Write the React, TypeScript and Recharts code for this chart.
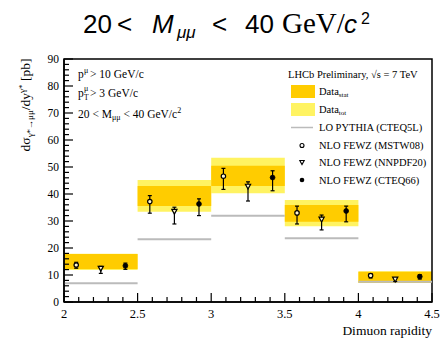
import React from 'react';
import { ComposedChart, XAxis, YAxis, Scatter, ErrorBar, ReferenceArea, ReferenceLine } from 'recharts';

// ---- data ----
const binLow = [2.0, 2.5, 3.0, 3.5, 4.0];
const binHigh = [2.5, 3.0, 3.5, 4.0, 4.5];
const totLow = [11.85, 33.4, 40.3, 28.1, 7.0];
const totHigh = [17.9, 45.2, 53.4, 37.8, 11.4];
const statLow = [12.2, 35.6, 43.0, 29.7, 7.15];
const statHigh = [17.8, 43.0, 50.5, 35.9, 11.2];
const pythia = [6.9, 23.2, 31.9, 23.6, 7.5];

const xMstw = [2.083, 2.583, 3.083, 3.583, 4.083];
const mstw = [13.7, 37.2, 46.6, 33.0, 9.8];
const mstwUp = [1.0, 2.2, 2.9, 2.5, 0.7];
const mstwDn = [1.2, 4.3, 4.9, 4.1, 0.9];

const xNnpdf = [2.25, 2.75, 3.25, 3.75, 4.25];
const nnpdf = [12.4, 33.5, 42.8, 30.6, 8.4];
const nnpdfUp = [0.8, 1.6, 1.7, 1.6, 0.6];
const nnpdfDn = [1.8, 4.6, 5.4, 3.9, 0.8];

const xCteq = [2.417, 2.917, 3.417, 3.917, 4.417];
const cteq = [13.4, 36.3, 46.1, 33.7, 9.4];
const cteqUp = [1.0, 1.9, 2.5, 1.8, 0.7];
const cteqDn = [1.3, 4.3, 4.9, 4.0, 0.9];

const xTicks = [2.0, 2.1, 2.2, 2.3, 2.4, 2.5, 2.6, 2.7, 2.8, 2.9, 3.0, 3.1, 3.2, 3.3, 3.4, 3.5, 3.6, 3.7, 3.8, 3.9, 4.0, 4.1, 4.2, 4.3, 4.4, 4.5];
const xMajor = [2.0, 2.5, 3.0, 3.5, 4.0, 4.5];
const yTicks = [0, 2, 4, 6, 8, 10, 12, 14, 16, 18, 20, 22, 24, 26, 28, 30, 32, 34, 36, 38, 40, 42, 44, 46, 48, 50, 52, 54, 56, 58, 60, 62, 64, 66, 68, 70, 72, 74, 76, 78, 80, 82, 84, 86, 88, 90];
const yMajor = [0, 10, 20, 30, 40, 50, 60, 70, 80, 90];

const SERIF = '"Liberation Serif", "Times New Roman", serif';
const SANS = '"Liberation Sans", Arial, Helvetica, sans-serif';

const ORANGE = '#FFCC00';
const YELLOW = '#FFF362';
const GRAY = '#BBBBBB';

const mk = (xs: number[], ys: number[], up: number[], dn: number[]) =>
  ys.map((y, i) => ({ x: xs[i], y, err: [dn[i], up[i]] }));

const mstwData = mk(xMstw, mstw, mstwUp, mstwDn);
const nnpdfData = mk(xNnpdf, nnpdf, nnpdfUp, nnpdfDn);
const cteqData = mk(xCteq, cteq, cteqUp, cteqDn);

const isMajor = (v: number, list: number[]) => list.some((m) => Math.abs(m - v) < 1e-6);

const XTick = (props: any) => {
  const { x, y, payload } = props;
  const v = payload.value;
  const major = isMajor(v, xMajor);
  return (
    <g>
      <line x1={x} x2={x} y1={y} y2={y - (major ? 9 : 5)} stroke="#000" strokeWidth={1.2} />
      {major && (
        <text x={x} y={y + 16} textAnchor="middle" fontFamily={SERIF} fontSize={12.5} fill="#000">
          {String(Math.round(v * 10) / 10)}
        </text>
      )}
    </g>
  );
};

const YTick = (props: any) => {
  const { x, y, payload } = props;
  const v = payload.value;
  const major = isMajor(v, yMajor);
  return (
    <g>
      <line x1={x} x2={x + (major ? 9 : 5)} y1={y} y2={y} stroke="#000" strokeWidth={1.2} />
      {major && (
        <text x={x - 5} y={y + 4} textAnchor="end" fontFamily={SERIF} fontSize={11.5} fill="#000">
          {String(v)}
        </text>
      )}
    </g>
  );
};

const OpenCircle = (p: any) => (
  <circle cx={p.cx} cy={p.cy} r={2.2} fill="#FFF6D0" stroke="#000" strokeWidth={1.2} />
);
const OpenTriDown = (p: any) => (
  <polygon
    points={`${p.cx - 2.6},${p.cy - 2.2} ${p.cx + 2.6},${p.cy - 2.2} ${p.cx},${p.cy + 2.6}`}
    fill="#FFF6D0"
    stroke="#000"
    strokeWidth={1.2}
  />
);
const FullCircle = (p: any) => <circle cx={p.cx} cy={p.cy} r={2.4} fill="#000" stroke="#000" strokeWidth={0.8} />;

export default function App() {
  return (
    <div style={{ position: 'fixed', left: 0, top: 0, width: 441, height: 340, background: '#fff' }}>
      <ComposedChart width={441} height={340} margin={{ top: 59, right: 9, bottom: 8, left: 0 }}>
        <XAxis
          type="number"
          dataKey="x"
          domain={[2, 4.5]}
          ticks={xTicks}
          interval={0}
          tick={<XTick />}
          tickLine={false}
          tickSize={0}
          tickMargin={0}
          height={30}
          axisLine={{ stroke: '#000', strokeWidth: 1.5 }}
          allowDataOverflow
        />
        <YAxis
          type="number"
          dataKey="y"
          domain={[0, 90]}
          ticks={yTicks}
          interval={0}
          tick={<YTick />}
          tickLine={false}
          tickSize={0}
          tickMargin={0}
          width={64}
          axisLine={{ stroke: '#000', strokeWidth: 1.5 }}
          allowDataOverflow
        />
        {pythia.map((v, i) => (
          <ReferenceLine
            key={'py' + i}
            segment={[
              { x: binLow[i], y: v },
              { x: binHigh[i], y: v },
            ]}
            stroke={GRAY}
            strokeWidth={2}
          />
        ))}
        {totLow.map((v, i) => (
          <ReferenceArea
            key={'tot' + i}
            x1={binLow[i]}
            x2={binHigh[i]}
            y1={v}
            y2={totHigh[i]}
            fill={YELLOW}
            fillOpacity={1}
            stroke="none"
          />
        ))}
        {statLow.map((v, i) => (
          <ReferenceArea
            key={'stat' + i}
            x1={binLow[i]}
            x2={binHigh[i]}
            y1={v}
            y2={statHigh[i]}
            fill={ORANGE}
            fillOpacity={1}
            stroke="none"
          />
        ))}
        <ReferenceArea x1={2} x2={4.5} y1={0} y2={90} fill="none" stroke="#000" strokeWidth={1.5} />
        <Scatter data={mstwData} shape={<OpenCircle />} isAnimationActive={false}>
          <ErrorBar dataKey="err" direction="y" width={2} stroke="#000" strokeWidth={1.2} isAnimationActive={false} />
        </Scatter>
        <Scatter data={nnpdfData} shape={<OpenTriDown />} isAnimationActive={false}>
          <ErrorBar dataKey="err" direction="y" width={2} stroke="#000" strokeWidth={1.2} isAnimationActive={false} />
        </Scatter>
        <Scatter data={cteqData} shape={<FullCircle />} isAnimationActive={false}>
          <ErrorBar dataKey="err" direction="y" width={2} stroke="#000" strokeWidth={1.2} isAnimationActive={false} />
        </Scatter>
      </ComposedChart>

      <svg
        width={441}
        height={340}
        style={{ position: 'absolute', left: 0, top: 0, pointerEvents: 'none' }}
      >
        {/* Title */}
        <g fill="#000">
          <text x={83} y={33} fontFamily={SANS} fontSize={26}>20</text>
          <text x={117} y={33} fontFamily={SANS} fontSize={26}>&lt;</text>
          <text x={152} y={33} fontFamily={SANS} fontSize={26} fontStyle="italic">M</text>
          <text x={177} y={38} fontFamily={SANS} fontSize={17} fontStyle="italic">μμ</text>
          <text x={212} y={33} fontFamily={SANS} fontSize={26}>&lt;</text>
          <text x={245} y={33} fontFamily={SANS} fontSize={26}>40</text>
          <text x={282} y={33} fontFamily={SERIF} fontSize={29}>GeV/</text>
          <text x={344} y={33} fontFamily={SANS} fontSize={26} fontStyle="italic">c</text>
          <text x={361} y={24} fontFamily={SANS} fontSize={16}>2</text>
        </g>

        {/* Y axis title */}
        <text
          transform="translate(30,105) rotate(-90)"
          textAnchor="middle"
          fontFamily={SERIF}
          fontSize={13.5}
          fill="#000"
        >
          dσ
          <tspan fontSize={9} dy={3}>γ*→μμ</tspan>
          <tspan dy={-3}>/dy</tspan>
          <tspan fontSize={9} dy={-5}>γ*</tspan>
          <tspan dy={5}> [pb]</tspan>
        </text>

        {/* X axis title */}
        <text x={432} y={335} textAnchor="end" fontFamily={SERIF} fontSize={13.5} fill="#000">
          Dimuon rapidity
        </text>

        {/* Cut box */}
        <g fontFamily={SERIF} fill="#000">
          <text x={78} y={78} fontSize={11.5}>p</text>
          <text x={84} y={73} fontSize={8}>μ</text>
          <text x={90} y={78} fontSize={11.5}>&gt; 10 GeV/c</text>

          <text x={78} y={96.5} fontSize={11.5}>p</text>
          <text x={84} y={91} fontSize={8}>μ</text>
          <text x={84} y={100} fontSize={7.5}>T</text>
          <text x={90} y={96.5} fontSize={11.5}>&gt; 3 GeV/c</text>

          <text x={78} y={118} fontSize={11.5}>
            20 &lt; M
            <tspan fontSize={8} dy={2}>μμ</tspan>
            <tspan dy={-2}> &lt; 40 GeV/c</tspan>
            <tspan fontSize={8} dy={-5}>2</tspan>
          </text>
        </g>

        {/* Legend */}
        <g fontFamily={SERIF} fill="#000" fontSize={10.5}>
          <text x={288} y={78}>LHCb Preliminary, √s = 7 TeV</text>
          <rect x={291} y={85} width={24} height={13} fill={ORANGE} />
          <text x={319} y={95}>
            Data<tspan fontSize={7} dy={2}>stat</tspan>
          </text>
          <rect x={291} y={103} width={24} height={13} fill={YELLOW} />
          <text x={319} y={112.5}>
            Data<tspan fontSize={7} dy={2}>tot</tspan>
          </text>
          <line x1={291} x2={313} y1={127.5} y2={127.5} stroke={GRAY} strokeWidth={1.5} />
          <text x={319} y={131}>LO PYTHIA (CTEQ5L)</text>
          <circle cx={302} cy={145.5} r={2} fill="#fff" stroke="#000" strokeWidth={1.1} />
          <text x={319} y={149}>NLO FEWZ (MSTW08)</text>
          <polygon points="299.8,160.5 304.2,160.5 302,164.5" fill="#fff" stroke="#000" strokeWidth={1.1} />
          <text x={319} y={166}>NLO FEWZ (NNPDF20)</text>
          <circle cx={302} cy={180} r={2.3} fill="#000" />
          <text x={319} y={183.5}>NLO FEWZ (CTEQ66)</text>
        </g>
      </svg>
    </div>
  );
}
